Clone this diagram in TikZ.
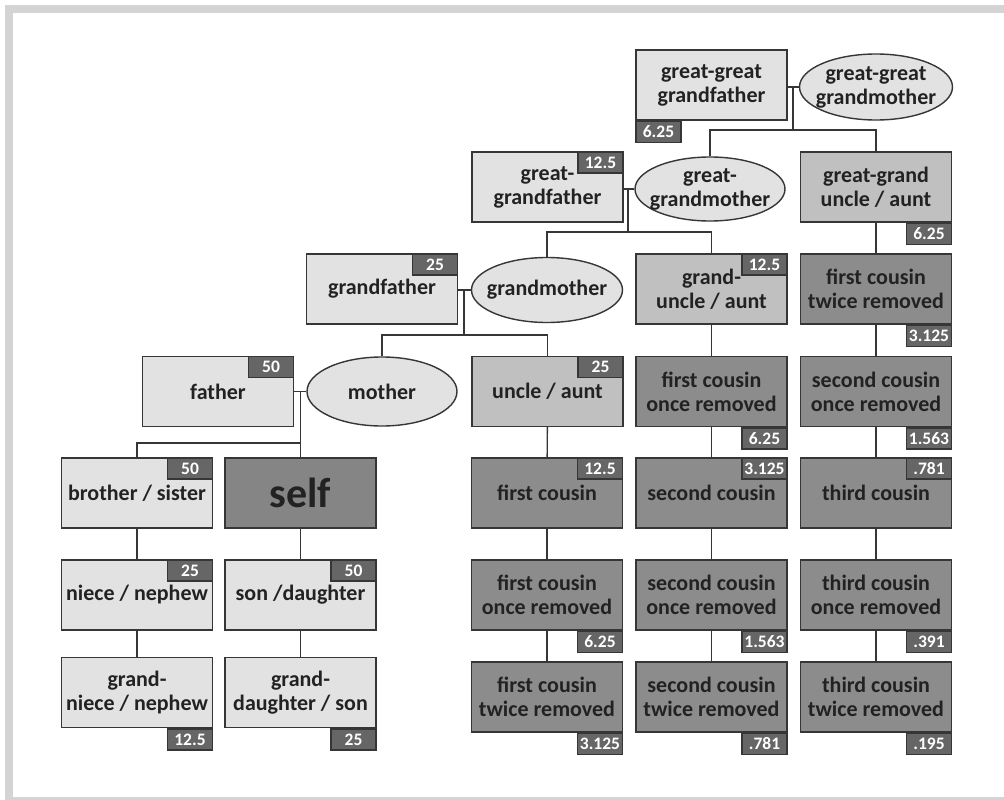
\documentclass[tikz,border=0pt]{standalone}
\usepackage{fontspec}
\setmainfont{Carlito}
\usetikzlibrary{shapes.geometric}
\definecolor{framegray}{HTML}{D4D4D4}
\definecolor{edge}{HTML}{363636}
\definecolor{ink}{HTML}{222222}
\definecolor{lightfill}{HTML}{E2E2E2}
\definecolor{midfill}{HTML}{C0C0C0}
\definecolor{darkfill}{HTML}{8C8C8C}
\definecolor{selffill}{HTML}{858585}
\definecolor{badgefill}{HTML}{666666}
\begin{document}
\begin{tikzpicture}[x=1pt,y=-1pt,
  base/.style={draw=edge, line width=1.4pt, text=ink, align=center, inner sep=0pt,
    font=\bfseries\fontsize{22}{24}\selectfont},
  box/.style={base, rectangle, minimum width=151pt, minimum height=70pt},
  lightbox/.style={box, fill=lightfill},
  midbox/.style={box, fill=midfill},
  darkbox/.style={box, fill=darkfill},
  selfbox/.style={box, fill=selffill, font=\bfseries\fontsize{42}{44}\selectfont},
  ell/.style={base, ellipse, fill=lightfill, inner xsep=-16pt, inner ysep=-4pt},
  badge/.style={draw=edge, line width=1.4pt, fill=badgefill, text=white, inner sep=0pt,
    font=\bfseries\fontsize{17.5}{17.5}\selectfont, minimum width=45pt, minimum height=21pt},
  topright/.style={badge, anchor=north east},
  lowright/.style={badge, anchor=north east},
  lowleft/.style={badge, anchor=north west},
  link/.style={draw=edge, line width=1.4pt}]

\useasboundingbox (0,0) rectangle (1004,800);
% page frame
\fill[framegray] (5,5) rectangle (1004,800);
\fill[white] (13,13) rectangle (1004,797);

% ---- generation of great-great grandparents
\node[lightbox] (ggf) at (711.5,85) {great-great\\grandfather};
\node[ell, minimum width=153pt, minimum height=66pt] (ggm) at (876,87) {great-great\\grandmother};

% ---- great-grandparents and their siblings
\node[lightbox] (gf1) at (547.5,187) {great-\\grandfather};
\node[ell, minimum width=150pt, minimum height=64pt] (gm1) at (710,189) {great-\\grandmother};
\node[midbox] (gga) at (876,187) {great-grand\\uncle / aunt};

% ---- grandparents
\node[lightbox] (gf) at (382,289) {grandfather};
\node[ell, minimum width=151pt, minimum height=65pt] (gm) at (547,290) {grandmother};
\node[midbox] (gua) at (711.5,289) {grand-\\uncle / aunt};
\node[darkbox] (c1r2a) at (876,289) {first cousin\\twice removed};

% ---- parents
\node[lightbox] (father) at (218,391.5) {father};
\node[ell, minimum width=150pt, minimum height=69pt] (mother) at (382,391.5) {mother};
\node[midbox] (ua) at (547.5,391.5) {uncle / aunt};
\node[darkbox] (c1r1a) at (711.5,391.5) {first cousin\\once removed};
\node[darkbox] (c2r1a) at (876,391.5) {second cousin\\once removed};

% ---- own generation
\node[lightbox] (sib) at (137,493) {brother / sister};
\node[selfbox] (self) at (300.5,493) {self};
\node[darkbox] (c1) at (547,493) {first cousin};
\node[darkbox] (c2) at (711.5,493) {second cousin};
\node[darkbox] (c3) at (876,493) {third cousin};

% ---- children
\node[lightbox] (niece) at (137,595) {niece / nephew};
\node[lightbox] (son) at (300.5,595) {son /daughter};
\node[darkbox] (c1r1) at (547,595) {first cousin\\once removed};
\node[darkbox] (c2r1) at (711.5,595) {second cousin\\once removed};
\node[darkbox] (c3r1) at (876,595) {third cousin\\once removed};

% ---- grandchildren
\node[lightbox] (gniece) at (137,692.5) {grand-\\niece / nephew};
\node[lightbox] (gson) at (300.5,692.5) {grand-\\daughter / son};
\node[darkbox] (c1r2) at (547,697) {first cousin\\twice removed};
\node[darkbox] (c2r2) at (711.5,697) {second cousin\\twice removed};
\node[darkbox] (c3r2) at (876,697) {third cousin\\twice removed};

% ---- couples and descent lines
\coordinate (j0) at (793,87);  \coordinate (h0) at (793,130);
\coordinate (j1) at (628,189); \coordinate (h1) at (628,232);
\coordinate (j2) at (464,290); \coordinate (h2) at (464,335);
\coordinate (j3) at (300.5,391.5); \coordinate (h3) at (300.5,443);

\draw[link] (ggf.east |- ggm.west) -- (ggm.west);
\draw[link] (j0) -- (h0);
\draw[link] (gm1.north) |- (h0) -| (gga.north);

\draw[link] (gf1.east |- gm1.west) -- (gm1.west);
\draw[link] (j1) -- (h1);
\draw[link] (gm.north) |- (h1) -| (gua.north);

\draw[link] (gf.east |- gm.west) -- (gm.west);
\draw[link] (j2) -- (h2);
\draw[link] (mother.north) |- (h2) -| (ua.north);

\draw[link] (father.east) -- (mother.west);
\draw[link] (j3) -- (self.north);
\draw[link] (sib.north) |- (h3);

\draw[link] (sib) -- (niece);
\draw[link] (niece) -- (gniece);
\draw[link] (self) -- (son);
\draw[link] (son) -- (gson);

\draw[link] (ua) -- (c1);
\draw[link] (c1) -- (c1r1);
\draw[link] (c1r1) -- (c1r2);

\draw[link] (gua) -- (c1r1a);
\draw[link] (c1r1a) -- (c2);
\draw[link] (c2) -- (c2r1);
\draw[link] (c2r1) -- (c2r2);

\draw[link] (gga) -- (c1r2a);
\draw[link] (c1r2a) -- (c2r1a);
\draw[link] (c2r1a) -- (c3);
\draw[link] (c3) -- (c3r1);
\draw[link] (c3r1) -- (c3r2);

% ---- relatedness badges
\node[lowleft]  (b-ggf)   at (ggf.south west)   {6.25};
\node[topright] (b-gf1)   at (gf1.north east)   {12.5};
\node[lowright] (b-gga)   at (gga.south east)   {6.25};
\node[topright] (b-gf)    at (gf.north east)    {25};
\node[topright] (b-gua)   at (gua.north east)   {12.5};
\node[lowright] (b-c1r2a) at (c1r2a.south east) {3.125};
\node[topright] (b-father) at (father.north east) {50};
\node[topright] (b-ua)    at (ua.north east)    {25};
\node[lowright] (b-c1r1a) at (c1r1a.south east) {6.25};
\node[lowright] (b-c2r1a) at (c2r1a.south east) {1.563};
\node[topright] (b-sib)   at (sib.north east)   {50};
\node[topright] (b-c1)    at (c1.north east)    {12.5};
\node[topright] (b-c2)    at (c2.north east)    {3.125};
\node[topright] (b-c3)    at (c3.north east)    {.781};
\node[topright] (b-niece) at (niece.north east) {25};
\node[topright] (b-son)   at (son.north east)   {50};
\node[lowright] (b-c1r1)  at (c1r1.south east)  {6.25};
\node[lowright] (b-c2r1)  at (c2r1.south east)  {1.563};
\node[lowright] (b-c3r1)  at (c3r1.south east)  {.391};
\node[lowright] (b-gniece) at (gniece.south east) {12.5};
\node[lowright] (b-gson)  at (gson.south east)  {25};
\node[lowright] (b-c1r2)  at (c1r2.south east)  {3.125};
\node[lowright] (b-c2r2)  at (c2r2.south east)  {.781};
\node[lowright] (b-c3r2)  at (c3r2.south east)  {.195};
\end{tikzpicture}
\end{document}
